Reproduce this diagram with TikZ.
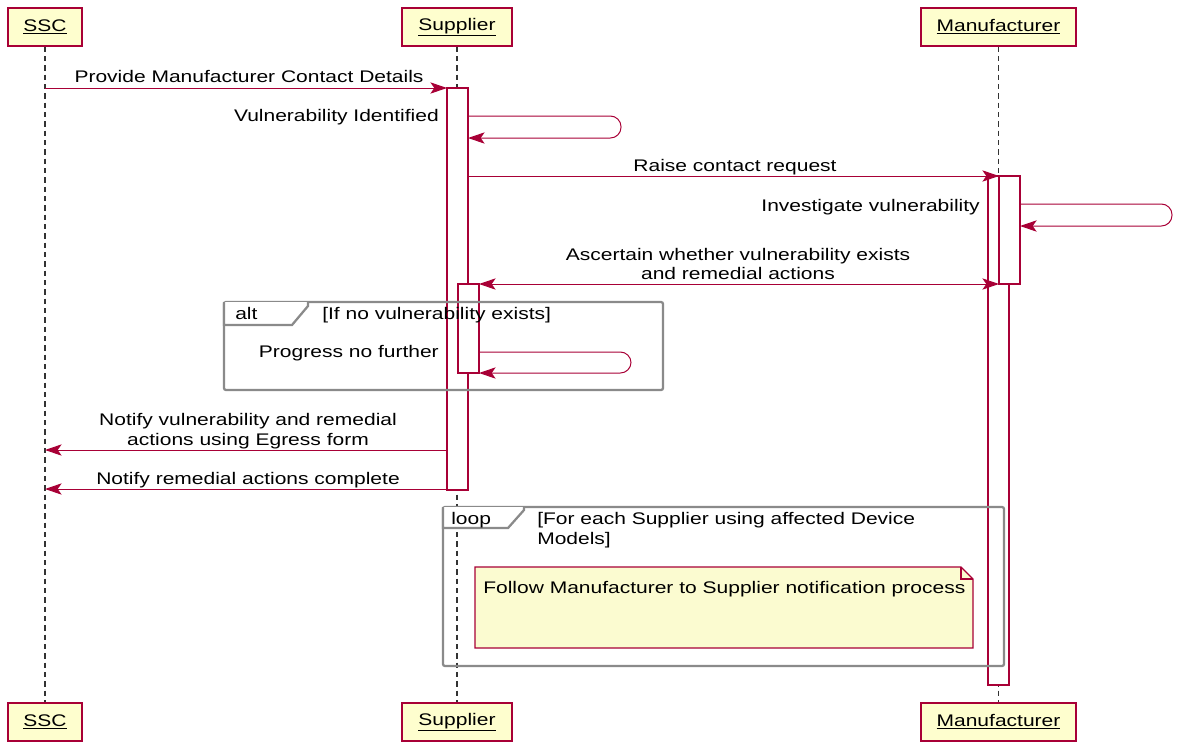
\documentclass[tikz,border=0pt]{standalone}
\usepackage{fontspec}
\setmainfont{Liberation Sans}[FakeStretch=1.25]
\usetikzlibrary{arrows.meta}
\definecolor{plred}{HTML}{A80036}
\definecolor{plfill}{HTML}{FEFECE}
\definecolor{notefill}{HTML}{FBFBD0}
\definecolor{framegray}{HTML}{8A8A8A}
\tikzset{
  px/.style={x=0.75pt,y=-0.75pt},
  txt/.style={font=\fontsize{12.6pt}{15pt}\selectfont, inner sep=0pt, text=black},
  part/.style={draw=plred, fill=plfill, line width=1.1pt, minimum height=28.5pt, inner sep=0pt, font=\fontsize{12.6pt}{15pt}\selectfont},
  act/.style={draw=plred, fill=white, line width=0.8pt, minimum width=15.75pt, inner sep=0pt, outer sep=0pt},
  lifeline/.style={draw=black!80, line width=0.8pt, dash pattern=on 4pt off 3pt},
  msg/.style={draw=plred, line width=0.75pt, -{Stealth[length=12.5pt,width=8.5pt,inset=3pt]}},
  msgtwo/.style={draw=plred, line width=0.75pt, {Stealth[length=12.5pt,width=8.5pt,inset=3pt]}-{Stealth[length=12.5pt,width=8.5pt,inset=3pt]}},
  selfmsg/.style={msg, rounded corners=8pt},
  frame/.style={draw=framegray, line width=1.7pt, rounded corners=1.5pt},
  tab/.style={draw=framegray, line width=1.7pt},
}
\begin{document}
\begin{tikzpicture}[px]
\useasboundingbox (0,0) rectangle (1181,744);
% participants
\node[part, minimum width=55.5pt] (sscT) at (45,27) {\underline{SSC}};
\node[part, minimum width=82.5pt] (supT) at (457,27) {\underline{Supplier}};
\node[part, minimum width=116.25pt] (manT) at (998.5,27) {\underline{Manufacturer}};
\node[part, minimum width=55.5pt] (sscB) at (45,722) {\underline{SSC}};
\node[part, minimum width=82.5pt] (supB) at (457,722) {\underline{Supplier}};
\node[part, minimum width=116.25pt] (manB) at (998.5,722) {\underline{Manufacturer}};
% lifelines
\draw[lifeline] (sscT.south) -- (sscB.north);
\draw[lifeline] (supT.south) -- (supB.north);
\draw[lifeline] (manT.south) -- (manB.north);
% activations
\node[act, minimum height=301.5pt] (S1) at (457.5,289) {};
\node[act, minimum height=66.75pt] (S2) at (468.5,328.5) {};
\node[act, minimum height=381.75pt] (M1) at (998.5,430.5) {};
\node[act, minimum height=81pt] (M2) at (1009.5,230) {};
% messages
\draw[msg] (sscT.south |- 0,88) -- (S1.west |- 0,88);
\node[txt, anchor=base] (t1) at (249,82) {Provide Manufacturer Contact Details};

\coordinate (v1) at (621,116);
\coordinate (v2) at (621,138);
\draw[selfmsg] (S1.east |- v1) -- (v1) -- (v2) -- (S1.east |- v2);
\node[txt, anchor=base east] (t2) at (439,121) {Vulnerability Identified};

\draw[msg] (S1.east |- 0,176) -- (M2.west |- 0,176);
\node[txt, anchor=base] (t3) at (735,171) {Raise contact request};

\coordinate (w1) at (1172,204);
\coordinate (w2) at (1172,226);
\draw[selfmsg] (M2.east |- w1) -- (w1) -- (w2) -- (M2.east |- w2);
\node[txt, anchor=base east] (t4) at (980,211) {Investigate vulnerability};

\draw[msgtwo] (S2.east |- 0,284) -- (M2.west |- 0,284);
\node[txt, anchor=base] (t5a) at (738,260) {Ascertain whether vulnerability exists};
\node[txt, anchor=base] (t5b) at (738,279) {and remedial actions};

% alt frame
\draw[frame] (224,302) rectangle (663,390);
\draw[tab, fill=white] (224,302) -- (224,325) -- (292,325) -- (308,306) -- (308,302);
\node[txt, anchor=base west] (altl) at (235,319) {alt};
\node[txt, anchor=base west] (altg) at (322,319) {[If no vulnerability exists]};

\coordinate (q1) at (631,352);
\coordinate (q2) at (631,373);
\draw[selfmsg] (S2.east |- q1) -- (q1) -- (q2) -- (S2.east |- q2);
\node[txt, anchor=base east] (t6) at (439,357) {Progress no further};

\draw[msg] (S1.west |- 0,450) -- (sscT.south |- 0,450);
\node[txt, anchor=base] (t7a) at (248,425) {Notify vulnerability and remedial};
\node[txt, anchor=base] (t7b) at (248,445) {actions using Egress form};

\draw[msg] (S1.west |- 0,489) -- (sscT.south |- 0,489);
\node[txt, anchor=base] (t8) at (248,484) {Notify remedial actions complete};

% loop frame
\draw[frame] (443,507) rectangle (1004,666);
\draw[tab, fill=white] (443,507) -- (443,528) -- (508,528) -- (524,510) -- (524,507);
\node[txt, anchor=base west] (loopl) at (451,524) {loop};
\node[txt, anchor=base west] (loopg1) at (537,524) {[For each Supplier using affected Device};
\node[txt, anchor=base west] (loopg2) at (537,544) {Models]};

% note
\draw[draw=plred, fill=notefill, line width=0.8pt] (475,567) -- (961,567) -- (973,579) -- (973,648) -- (475,648) -- cycle;
\draw[draw=plred, line width=0.8pt] (961,567) -- (961,579) -- (973,579);
\node[txt, anchor=base west] (note) at (483,593) {Follow Manufacturer to Supplier notification process};
\end{tikzpicture}
\end{document}
